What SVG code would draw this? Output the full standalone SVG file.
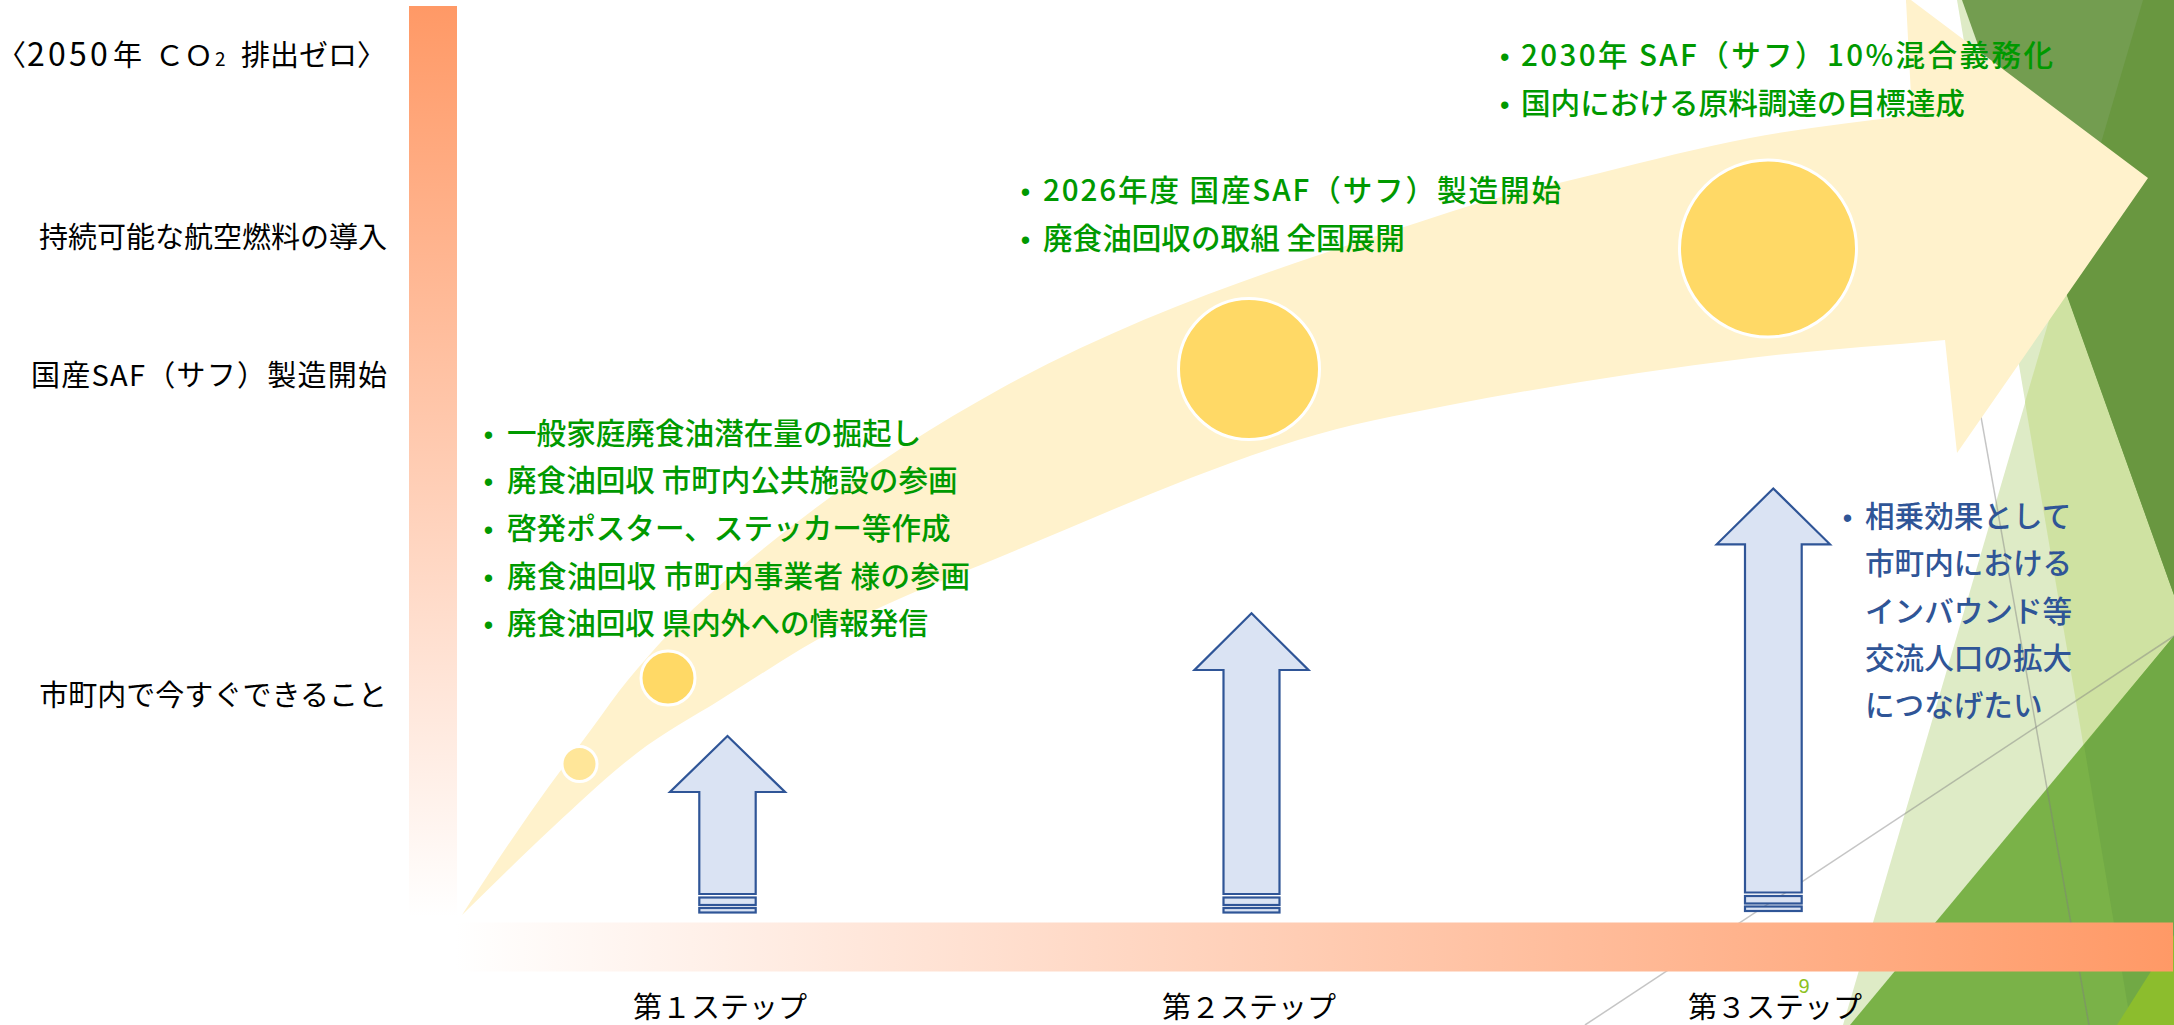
<svg xmlns="http://www.w3.org/2000/svg" width="2174" height="1025" viewBox="0 0 2174 1025">
<defs>
<linearGradient id="gv" gradientUnits="userSpaceOnUse" x1="0" y1="6" x2="0" y2="917">
<stop offset="0" stop-color="#FF9966"/><stop offset="1" stop-color="#FFFFFF"/>
</linearGradient>
<linearGradient id="gh" gradientUnits="userSpaceOnUse" x1="455" y1="0" x2="2173" y2="0">
<stop offset="0" stop-color="#FFFFFF"/><stop offset="1" stop-color="#FF9966"/>
</linearGradient>
<style>
.lbl{font-family:"Noto Sans CJK JP","Noto Sans CJK SC",sans-serif;font-size:29px;font-weight:400;fill:#000}
.g{font-family:"Noto Sans CJK JP","Noto Sans CJK SC",sans-serif;font-size:29.6px;font-weight:500;fill:#009900}
.b{font-family:"Noto Sans CJK JP","Noto Sans CJK SC",sans-serif;font-size:29.6px;font-weight:500;fill:#2F5597}
.bul{font-family:"Liberation Sans",Arial,sans-serif;font-size:27px}
.mid{text-anchor:middle}
.end{text-anchor:end}
.arr{fill:#DAE3F3;stroke:#2F5597;stroke-width:2.2}
.dot{fill:#FFD966;stroke:#FFFFFF;stroke-width:3}
.gl{stroke:#7F7F7F;stroke-opacity:0.45;stroke-width:1.5;fill:none}
</style>
</defs>
<rect x="0" y="0" width="2174" height="1025" fill="#FFFFFF"/>

<g id="decor">
<polygon points="1957,0 2174,0 2174,1025 2131,1025" fill="#DEEBC6"/>
<polygon points="2143,0 2174,0 2174,1025 1843,1025" fill="#DEEBC6"/>
<polygon points="2143,0 2174,0 2174,1025 2131,1025 2025,402" fill="#CFE2A2"/>
<polygon points="1962,0 2174,0 2174,595" fill="#739D50"/>
<polygon points="2143,0 2174,0 2174,595 2061,279" fill="#699740"/>
<polygon points="1850,1025 2174,636 2174,1025" fill="#7AB248"/>
<polygon points="2084,745 2174,636 2174,1025 2131,1025" fill="#71A945"/>
<polygon points="2117,1025 2174,935 2174,1025" fill="#8CBD2D"/>
<line class="gl" x1="1907" y1="0" x2="2089" y2="1025"/>
<line class="gl" x1="1585" y1="1025" x2="2174" y2="636"/>
</g>

<g id="axes">
<rect x="409" y="6" width="48" height="911" fill="url(#gv)"/>
<rect x="455" y="922.5" width="1718" height="49" fill="url(#gh)"/>
</g>

<g id="growth-arrow">
<path fill="#FFF2CC" d="M 462 915 C 484.7 879.8, 507.3 845.5, 530 813 C 551 783, 572 755.4, 593 727 C 604.7 711.2, 616.3 694.1, 628 680 C 653 649.9, 678 622.2, 703 600 C 802 512, 901 443.5, 1000 389 C 1150 306.5, 1300 261, 1450 212 C 1500 195.6, 1550 185.4, 1600 173 C 1650 160.6, 1700 147.4, 1750 138 C 1804 127.8, 1858 122, 1912 115 L 1906 0 L 1903 -6 L 2148 178 L 1957 453 L 1945 340 C 1880 346, 1815 349.9, 1750 358 C 1650 370.5, 1550 385.7, 1450 405 C 1399.3 414.8, 1348.7 424.3, 1298 440 C 1198.7 470.8, 1099.3 515.8, 1000 557 C 946.7 579.1, 893.3 599.1, 840 627 C 800 647.9, 760 675.1, 720 700 C 692.3 717.3, 664.7 731.9, 637 753 C 609 774.3, 581 801.1, 553 827 C 522.7 855, 492.3 885.7, 462 915 Z"/>
</g>

<g id="milestones">
<circle id="dot1" class="dot" cx="579.5" cy="764" r="17.5" style="fill:#FFE699"/>
<circle id="dot2" class="dot" cx="668" cy="678" r="27"/>
<circle id="dot3" class="dot" cx="1249" cy="369" r="70.5"/>
<circle id="dot4" class="dot" cx="1768" cy="248.5" r="88.5"/>
</g>

<g id="connectors">
<g id="step1-arrow">
<polygon class="arr" points="727.5,736 785,792 755.7,792 755.7,894 699.3,894 699.3,792 670,792"/>
<rect class="arr" x="699.3" y="897.5" width="56.4" height="7.5"/>
<rect class="arr" x="699.3" y="908" width="56.4" height="4.5"/>
</g>
<g id="step2-arrow">
<polygon class="arr" points="1251.5,613.3 1308.5,670 1279.5,670 1279.5,894 1223.5,894 1223.5,670 1194.5,670"/>
<rect class="arr" x="1223.5" y="897.5" width="56" height="7.5"/>
<rect class="arr" x="1223.5" y="908" width="56" height="4.5"/>
</g>
<g id="step3-arrow">
<polygon class="arr" points="1773.3,488.5 1830,544.3 1801.7,544.3 1801.7,892.5 1745,892.5 1745,544.3 1716.7,544.3"/>
<rect class="arr" x="1745" y="896" width="56.7" height="7.5"/>
<rect class="arr" x="1745" y="906.5" width="56.7" height="4.5"/>
</g>
</g>

<g id="y-labels">
<text class="lbl" y="66"><tspan x="-3">〈</tspan><tspan x="27 48 69 90" style="font-size:32px">2050</tspan><tspan x="113">年</tspan><tspan x="155">Ｃ</tspan><tspan x="184">Ｏ</tspan><tspan x="215" style="font-size:19px">2</tspan><tspan x="241">排出ゼロ</tspan><tspan x="357">〉</tspan></text>
<text class="lbl end" x="387" y="248">持続可能な航空燃料の導入</text>
<text class="lbl" x="31" y="386" textLength="356" lengthAdjust="spacing">国産SAF（サフ）製造開始</text>
<text class="lbl end" x="387" y="706">市町内で今すぐできること</text>
</g>

<g id="step1-text">
<text class="bul" x="483.8" y="444" fill="#009900">•</text>
<text class="bul" x="483.8" y="491" fill="#009900">•</text>
<text class="bul" x="483.8" y="539" fill="#009900">•</text>
<text class="bul" x="483.8" y="587" fill="#009900">•</text>
<text class="bul" x="483.8" y="634" fill="#009900">•</text>
<text class="g" x="507" y="444">一般家庭廃食油潜在量の掘起し</text>
<text class="g" x="507" y="491">廃食油回収 市町内公共施設の参画</text>
<text class="g" x="507" y="539">啓発ポスター、ステッカー等作成</text>
<text class="g" x="507" y="587" textLength="463" lengthAdjust="spacing">廃食油回収 市町内事業者 様の参画</text>
<text class="g" x="507" y="634">廃食油回収 県内外への情報発信</text>
</g>

<g id="step2-text">
<text class="bul" x="1020.8" y="201" fill="#009900">•</text>
<text class="bul" x="1020.8" y="249" fill="#009900">•</text>
<text class="g" x="1043" y="201" textLength="518" lengthAdjust="spacing">2026年度 国産SAF（サフ）製造開始</text>
<text class="g" x="1043" y="249">廃食油回収の取組 全国展開</text>
</g>

<g id="step3-text">
<text class="bul" x="1500" y="66" fill="#009900">•</text>
<text class="bul" x="1500" y="114" fill="#009900">•</text>
<text class="g" x="1521" y="66" textLength="532" lengthAdjust="spacing">2030年 SAF（サフ）10%混合義務化</text>
<text class="g" x="1521" y="114">国内における原料調達の目標達成</text>
</g>

<g id="effect-text">
<text class="bul" x="1842.8" y="527" fill="#2F5597">•</text>
<text class="b" x="1865" y="527">相乗効果として</text>
<text class="b" x="1865" y="574">市町内における</text>
<text class="b" x="1865" y="622">インバウンド等</text>
<text class="b" x="1865" y="669">交流人口の拡大</text>
<text class="b" x="1865" y="716">につなげたい</text>
</g>

<g id="step-labels">
<text class="lbl mid" x="720" y="1018">第１ステップ</text>
<text class="lbl mid" x="1249" y="1018">第２ステップ</text>
<text class="lbl mid" x="1775" y="1018">第３ステップ</text>
</g>

<g id="page-number">
<text x="1804" y="993" text-anchor="middle" style="font-family:'Liberation Sans',Arial,sans-serif;font-size:20px;fill:#8DC21F">9</text>
</g>
</svg>
